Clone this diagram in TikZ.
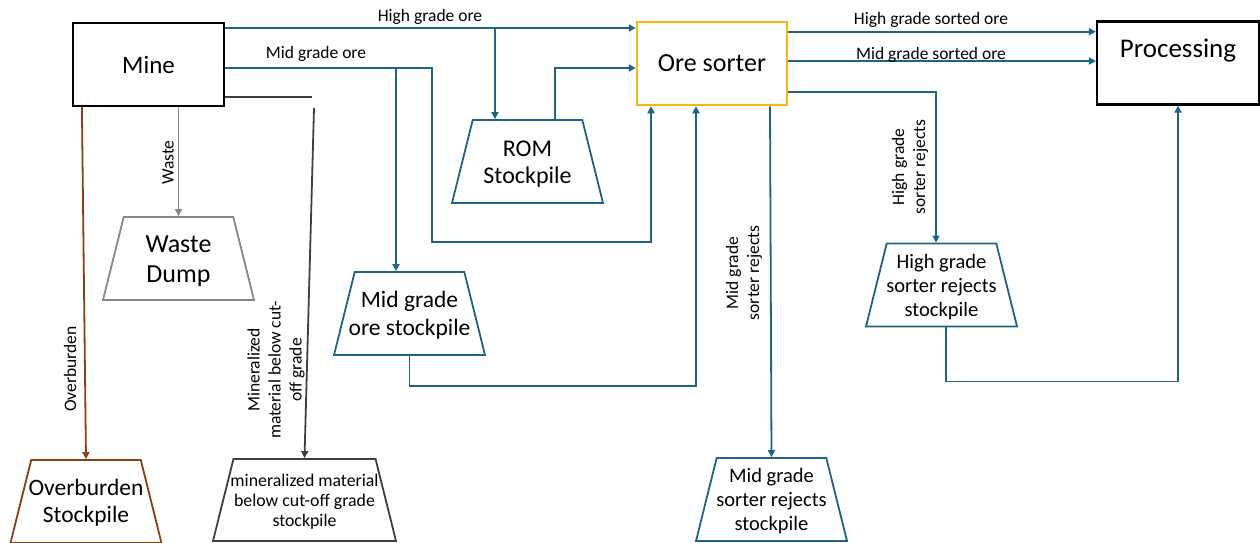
\documentclass[tikz,border=0pt]{standalone}
\usepackage{fontspec}
\setmainfont{Carlito}
\usepackage{xcolor}
\usepackage{tikz}
\usetikzlibrary{calc}
\usetikzlibrary{arrows.meta}
\usetikzlibrary{shapes.geometric}

\definecolor{flow}{RGB}{30,100,135}
\definecolor{sortgold}{RGB}{242,185,15}
\definecolor{burden}{RGB}{140,62,20}
\definecolor{wastegray}{RGB}{135,135,135}
\definecolor{lowgrade}{RGB}{64,64,64}

% stockpile text, kept centred whatever its width
\newcommand{\pilebox}[1]{\makebox[0pt]{\raisebox{-0.37em}{\begin{tabular}{@{}c@{}}#1\end{tabular}}}}

\begin{document}
\begin{tikzpicture}[x=1pt, y=-1pt,
    unit/.style={draw, line width=2.2pt, minimum width=151pt, minimum height=83pt,
        inner sep=0pt, font=\fontsize{25}{30}\selectfont},
    pile/.style={trapezium, trapezium angle=76, trapezium stretches body=true,
        draw=flow, line width=1.8pt, minimum width=151pt, text height=41.5pt, text depth=41.5pt,
        inner sep=0pt, font=\fontsize{24}{27}\selectfont},
    pipe/.style={draw=flow, line width=1.8pt, -{Triangle[length=7pt,width=7pt]}},
    tag/.style={font=\fontsize{17.5}{21}\selectfont, inner sep=0pt, align=center}
]
    \useasboundingbox (0,0) rectangle (1260,542);

    % Units
    \node[unit] (mine) at (148.5,64.5) {Mine};
    \node[unit, draw=sortgold, line width=2.5pt, minimum width=150pt,
        font=\fontsize{26}{30}\selectfont] (sorter) at (712,63.5) {Ore sorter};
    \node[unit, minimum width=162pt, text height=18pt, text depth=29pt,
        font=\fontsize{27}{30}\selectfont] (proc) at (1178,63) {Processing};

    % Stockpiles
    \node[pile] (rom) at (527.5,161.5) {\pilebox{ROM\\Stockpile}};
    \node[pile, draw=wastegray, font=\fontsize{26}{30}\selectfont] (waste) at (178.5,258.5) {\pilebox{Waste\\Dump}};
    \node[pile, font=\fontsize{23.5}{28}\selectfont] (midpile) at (409.5,313.5) {\pilebox{Mid grade\\ore stockpile}};
    \node[pile, font=\fontsize{20.5}{24}\selectfont] (hgpile) at (941.5,285) {\pilebox{High grade\\sorter rejects\\stockpile}};
    \node[pile, font=\fontsize{20.5}{24}\selectfont] (mgpile) at (771.5,499.5) {\pilebox{Mid grade\\sorter rejects\\stockpile}};
    \node[pile, draw=burden, font=\fontsize{23.5}{27}\selectfont] (burdenpile) at (86,501.5) {\pilebox{Overburden\\Stockpile}};
    \node[pile, draw=lowgrade, minimum width=183pt, text height=41pt, text depth=41pt,
        font=\fontsize{17.8}{20}\selectfont] (lowpile) at (304.5,500) {\pilebox{mineralized material\\below cut-off grade\\stockpile}};

    % Feed from the mine
    \coordinate (hgsplit) at (495,28);
    \coordinate (mgsplit) at (396,68);
    \coordinate (mgturn) at (432,68);
    \draw[pipe] (mine.east |- hgsplit) -- (sorter.west |- hgsplit);
    \draw[pipe] (hgsplit) -- (hgsplit |- rom.north);
    \draw[pipe] (mine.east |- mgturn) -- (mgturn) -- ++(0,174) -| ([xshift=-61pt]sorter.south);
    \draw[pipe] (mgsplit) -- (mgsplit |- midpile.north);
    \draw[pipe] ([xshift=27.5pt]rom.north) |- ([yshift=-4.5pt]sorter.west);
    \draw[pipe] (midpile.south) -- ++(0,30) -| ([xshift=-16pt]sorter.south);

    % Waste, overburden and low grade
    \draw[pipe, draw=wastegray] (waste.north |- mine.south) -- (waste.north);
    \draw[pipe, draw=burden] ([xshift=10pt]mine.south west) -- (burdenpile.north);
    \coordinate (cutoff) at (314,108);
    \draw[line width=1.8pt, draw=lowgrade] ([yshift=10pt]mine.south east) -- ++(87,0);
    \draw[pipe, draw=lowgrade] (cutoff) -- (lowpile.north);

    % Sorter products
    \coordinate (hgout) at ([yshift=31.8pt]sorter.east);
    \coordinate (mgout) at ([yshift=2.5pt]sorter.east);
    \coordinate (hgrej) at ([yshift=-28.5pt]sorter.east);
    \draw[pipe] (hgout) -- (hgout -| proc.west);
    \draw[pipe] (mgout) -- (mgout -| proc.west);
    \draw[pipe] (hgrej) -| ([xshift=-5.5pt]hgpile.north);
    \draw[pipe] ([xshift=4.5pt]hgpile.south) -- ++(0,54) -| (proc.south);
    \draw[pipe] ([xshift=58pt]sorter.south) -- (mgpile.north);

    % Labels
    \node[tag, anchor=base] (hgorelab) at (430,21) {High grade ore};
    \node[tag, anchor=base] (mgorelab) at (316,58) {Mid grade ore};
    \node[tag, anchor=base] (hgoutlab) at (931,24.3) {High grade sorted ore};
    \node[tag, anchor=base] (mgoutlab) at (931,59) {Mid grade sorted ore};
    \node[tag, rotate=90] (wastelab) at (168,162.5) {Waste};
    \node[tag, rotate=90] (burdenlab) at (70,369) {Overburden};
    \node[tag, rotate=90] (cutlab) at (276,370) {Mineralized\\material below cut-\\off grade};
    \node[tag, rotate=90] (mgrejlab) at (744,273) {Mid grade\\sorter rejects};
    \node[tag, rotate=90] (hgrejlab) at (910,167) {High grade\\sorter rejects};
\end{tikzpicture}
\end{document}
